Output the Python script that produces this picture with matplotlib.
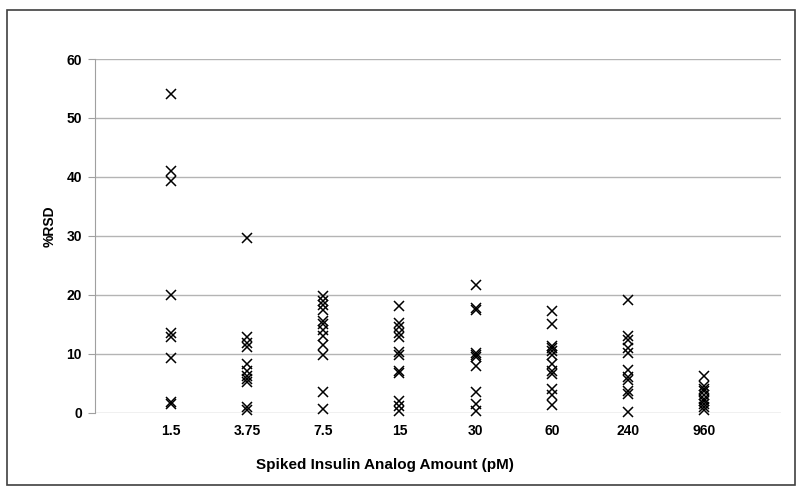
import matplotlib.pyplot as plt
from matplotlib.patches import Rectangle

plt.rcParams['font.family'] = ['Liberation Sans', 'DejaVu Sans']

amounts = ["1.5", "3.75", "7.5", "15", "30", "60", "240", "960"]

rsd_1_5 = [54.0, 41.0, 39.3, 20.0, 13.5, 12.8, 9.2, 1.8, 1.4]
rsd_3_75 = [29.7, 12.8, 11.8, 11.2, 8.3, 7.0, 6.2, 5.7, 5.2, 1.0, 0.5]
rsd_7_5 = [19.8, 19.0, 18.2, 17.5, 15.5, 15.1, 14.0, 13.0, 11.5, 9.8, 3.5, 0.7]
rsd_15 = [18.1, 15.3, 14.5, 13.5, 12.8, 10.3, 9.8, 7.0, 6.7, 2.0, 1.2, 0.3]
rsd_30 = [21.6, 17.8, 17.5, 10.2, 9.8, 9.4, 8.0, 3.5, 1.5, 0.3]
rsd_60 = [17.3, 15.0, 11.3, 11.0, 10.5, 9.8, 8.3, 7.0, 6.5, 4.0, 3.0, 1.3]
rsd_240 = [19.1, 13.0, 12.3, 11.0, 10.2, 7.3, 6.0, 5.6, 3.6, 3.2, 0.1]
rsd_960 = [6.2, 4.5, 4.0, 3.6, 3.0, 2.4, 1.9, 1.4, 0.9, 0.5]

groups = [rsd_1_5, rsd_3_75, rsd_7_5, rsd_15, rsd_30, rsd_60, rsd_240, rsd_960]

fig = plt.figure(figsize=(8.02, 4.94), dpi=100)
ax = fig.add_axes([94.5 / 802, 1 - 412.7 / 494, (780.5 - 94.5) / 802, (412.7 - 59) / 494])

for i, vals in enumerate(groups):
    ax.plot([i + 1] * len(vals), vals, linestyle='none', marker='x',
            color='black', ms=6.5, mew=1.1, clip_on=False, zorder=3)

ax.set_xlim(0, 9)
ax.set_ylim(0, 60)
ax.set_yticks(range(0, 61, 10))
ax.set_xticks(range(1, 9))
ax.set_xticklabels(amounts)
ax.yaxis.grid(True, color='#b4b4b4', linewidth=1)
ax.set_axisbelow(True)
for s in ['top', 'right', 'bottom']:
    ax.spines[s].set_visible(False)
ax.spines['left'].set_color('#a0a0a0')
ax.tick_params(axis='x', length=0, pad=8, labelsize=10)
ax.tick_params(axis='y', length=5, color='#a0a0a0', pad=4, labelsize=10)
for lab in ax.get_xticklabels() + ax.get_yticklabels():
    lab.set_fontweight('bold')

ax.set_xlabel('Spiked Insulin Analog Amount (pM)', fontsize=11, fontweight='bold')
ax.xaxis.set_label_coords(0.4235, -0.148)
ax.xaxis.label.set_va('center')
ax.set_ylabel('%RSD', fontsize=10, fontweight='bold')
ax.yaxis.set_label_coords(-0.0649, 0.528)
ax.yaxis.label.set_va('center')

fig.patches.append(Rectangle((7 / 802, 1 - 485 / 494), (795 - 7) / 802, (485 - 10) / 494,
                             transform=fig.transFigure, fill=False,
                             edgecolor='#404040', linewidth=1.2))

fig.savefig('out.png', dpi=100)
